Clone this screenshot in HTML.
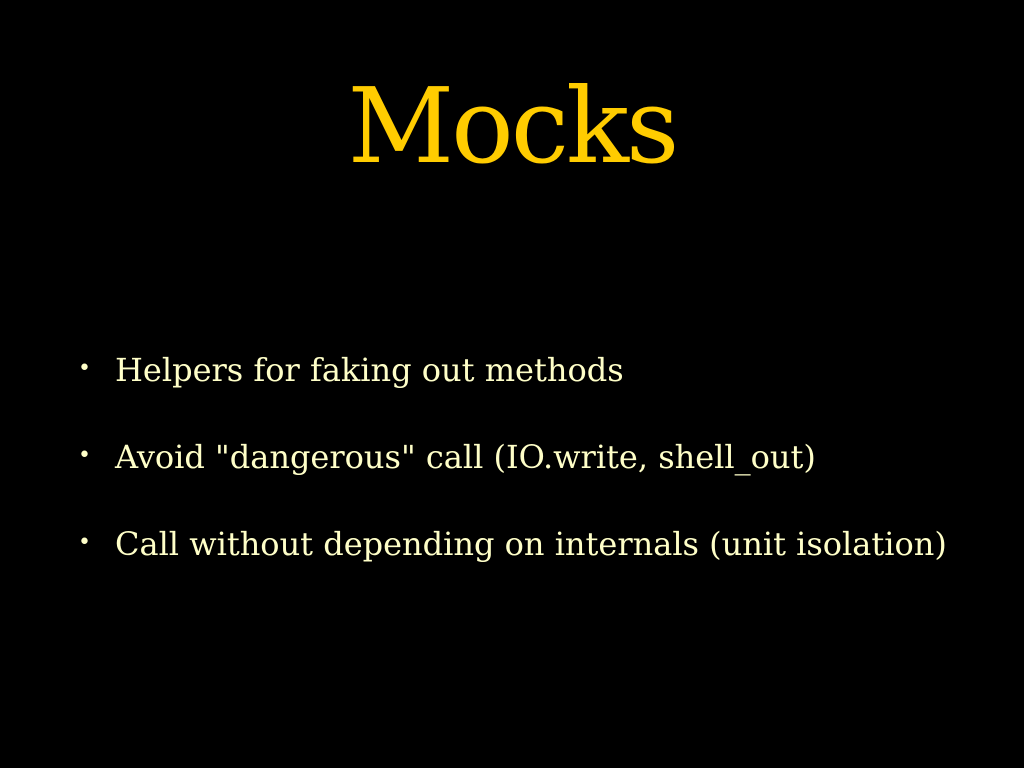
<!DOCTYPE html>
<html><head><meta charset="utf-8"><style>
html,body{margin:0;padding:0;background:#000;width:1024px;height:768px;overflow:hidden}
.t{position:absolute;left:0;width:1024px;text-align:center;top:74px;font:104px/1 "DejaVu Serif","Liberation Serif",serif;color:#FFCC00;letter-spacing:-3px}
.l{position:absolute;left:115px;font:32px/1 "DejaVu Serif","Liberation Serif",serif;color:#FFFFC8;white-space:nowrap}
.b{position:absolute;left:78px;font:22px/1 "DejaVu Serif",serif;color:#FFFFC8}
</style></head><body>
<div class="t">Mocks</div>
<div class="b" style="top:358px">•</div>
<div class="l" style="top:354px">Helpers for faking out methods</div>
<div class="b" style="top:445px">•</div>
<div class="l" style="top:441px">Avoid "dangerous" call (IO.write, shell_out)</div>
<div class="b" style="top:532px">•</div>
<div class="l" style="top:528px">Call without depending on internals (unit isolation)</div>
</body></html>
